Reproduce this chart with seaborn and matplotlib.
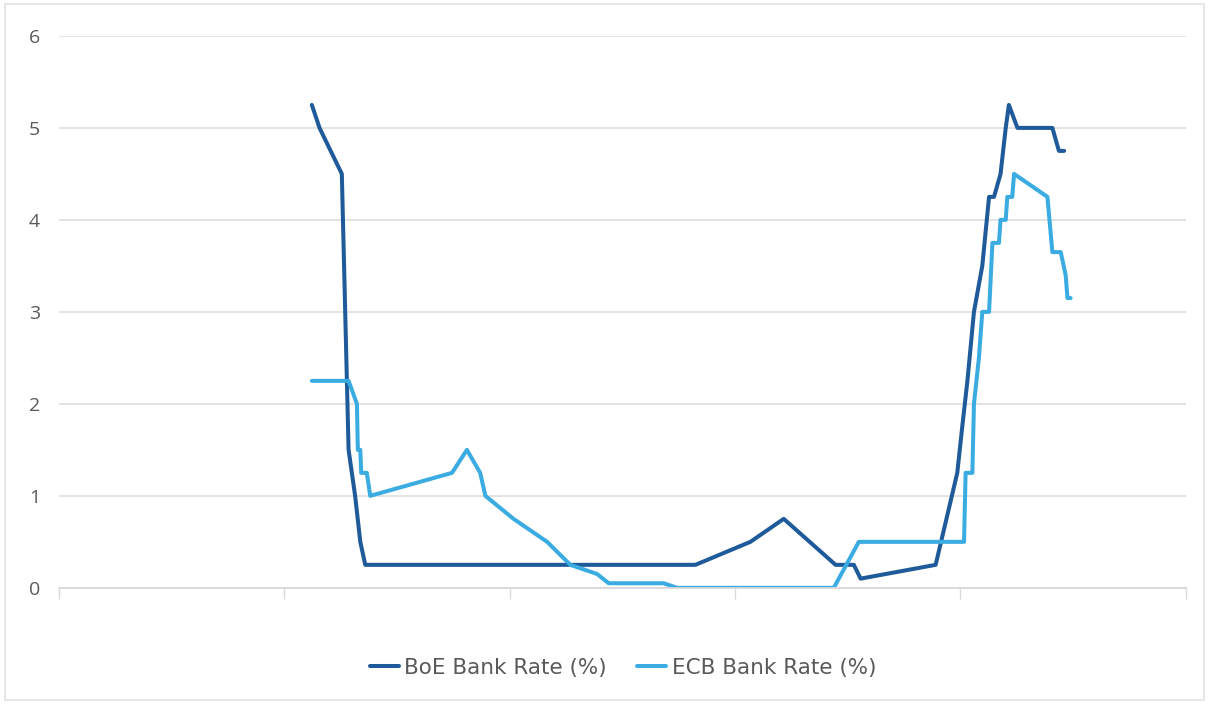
import pandas as pd
import seaborn as sns
import matplotlib.pyplot as plt
from matplotlib.patches import Rectangle

# ----------------------------
# Data (x = position along the unlabeled time axis)
# ----------------------------
boe_x = [1.122, 1.156, 1.255, 1.285, 1.314, 1.337, 1.359, 2.824, 3.068, 3.216,
         3.446, 3.527, 3.557, 3.890, 3.986, 4.008, 4.031, 4.060, 4.097, 4.127,
         4.149, 4.178, 4.201, 4.215, 4.253, 4.408, 4.437, 4.460]
boe_rate = [5.25, 5.0, 4.5, 1.5, 1.0, 0.5, 0.25, 0.25, 0.5, 0.75,
            0.25, 0.25, 0.1, 0.25, 1.25, 1.75, 2.25, 3.0, 3.5, 4.25,
            4.25, 4.5, 5.0, 5.25, 5.0, 5.0, 4.75, 4.75]

ecb_x = [1.122, 1.285, 1.322, 1.326, 1.337, 1.341, 1.366, 1.381, 1.744, 1.810,
         1.869, 1.892, 2.017, 2.166, 2.269, 2.388, 2.439, 2.683, 2.743, 3.438,
         3.549, 4.016, 4.023, 4.053, 4.060, 4.082, 4.097, 4.127, 4.142, 4.171,
         4.178, 4.201, 4.208, 4.230, 4.238, 4.386, 4.408, 4.445, 4.467, 4.475,
         4.489]
ecb_rate = [2.25, 2.25, 2.0, 1.5, 1.5, 1.25, 1.25, 1.0, 1.25, 1.5,
            1.25, 1.0, 0.75, 0.5, 0.25, 0.15, 0.05, 0.05, 0.0, 0.0,
            0.5, 0.5, 1.25, 1.25, 2.0, 2.5, 3.0, 3.0, 3.75, 3.75,
            4.0, 4.0, 4.25, 4.25, 4.5, 4.25, 3.65, 3.65, 3.4, 3.15,
            3.15]

series_names = ["BoE Bank Rate (%)", "ECB Bank Rate (%)"]
y_ticks = [0, 1, 2, 3, 4, 5, 6]

df = pd.concat([
    pd.DataFrame({"x": boe_x, "rate": boe_rate, "series": series_names[0]}),
    pd.DataFrame({"x": ecb_x, "rate": ecb_rate, "series": series_names[1]}),
])

# ----------------------------
# Plot
# ----------------------------
sns.set_style("white")
plt.rcParams['font.family'] = ['Open Sans', 'DejaVu Sans']

fig = plt.figure(figsize=(12.09, 7.04), dpi=100)
ax = fig.add_axes([0.0488, 0.165, 0.932, 0.784])

palette = {series_names[0]: "#1f5a9a", series_names[1]: "#3aace2"}
sns.lineplot(data=df, x="x", y="rate", hue="series", palette=palette,
             estimator=None, sort=False, linewidth=2.9, ax=ax, legend=True)

ax.set_xlim(0, 5)
ax.set_ylim(0, 6)
ax.set_yticks(y_ticks)
ax.set_xticks([0, 1, 2, 3, 4, 5])
ax.set_xticklabels([])
ax.set_xlabel("")
ax.set_ylabel("")
ax.grid(axis="y", color="#e0e0e0", linewidth=1.3)
ax.set_axisbelow(True)
for s in ["top", "right", "left"]:
    ax.spines[s].set_visible(False)
ax.spines["bottom"].set_color("#d9d9d9")
ax.spines["bottom"].set_linewidth(1.3)
ax.tick_params(axis="x", bottom=True, length=8, width=1, color="#d9d9d9", direction="out")
ax.tick_params(axis="y", left=False, labelsize=14, labelcolor="#595959", pad=10)

handles, labels = ax.get_legend_handles_labels()
ax.get_legend().remove()
fig.legend(handles, labels, loc="center", bbox_to_anchor=(623 / 1209, 1 - 668 / 704),
           ncol=2, frameon=False, labelcolor="#595959",
           prop={"family": "DejaVu Sans", "size": 15.5},
           handlelength=1.35, handletextpad=0.25, columnspacing=1.4)

# light frame around the whole chart
fig.patches.append(Rectangle((0.004, 0.006), 0.992, 0.988, transform=fig.transFigure,
                             fill=False, edgecolor="#e3e3e3", linewidth=1.2))

plt.savefig("out.png", dpi=100)
